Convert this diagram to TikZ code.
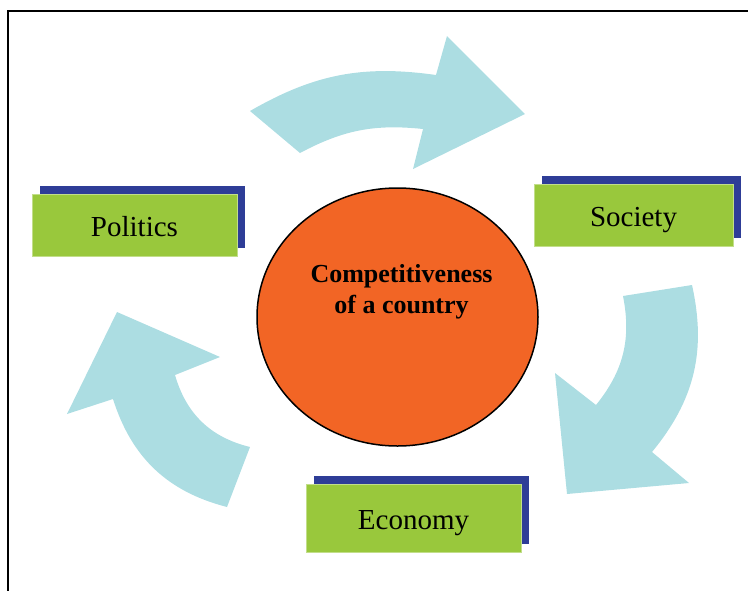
\documentclass[tikz,border=0pt]{standalone}
\usepackage{fontspec}
\setmainfont{Liberation Serif}
\usetikzlibrary{shapes.geometric,shadows}

\definecolor{arrowcyan}{RGB}{172,221,226}
\definecolor{boxgreen}{RGB}{153,200,60}
\definecolor{boxblue}{RGB}{46,61,151}
\definecolor{coreorange}{RGB}{242,101,37}

\begin{document}
\begin{tikzpicture}[x=1pt,y=1pt,
    cycle arrow/.style={fill=arrowcyan},
    factor/.style={fill=boxgreen, draw=boxgreen!60!white, line width=1pt,
        minimum height=62pt, text height=22pt, text depth=0pt,
        font=\fontsize{29}{35}\selectfont,
        general shadow={fill=boxblue, shadow xshift=8pt, shadow yshift=8pt}},
    core/.style={ellipse, fill=coreorange, draw=black, line width=1.5pt,
        minimum width=281pt, minimum height=258pt},
    core text/.style={align=center, font=\fontsize{26}{31}\selectfont\bfseries}]
    \path[use as bounding box] (0,0) rectangle (748,-590);
    \clip (0,0) rectangle (748,-590);
    \draw[line width=2pt] (8,-11) rectangle (760,-600);

    % the three curved arrows
    \fill[cycle arrow] (250,-111) to[bend left=19] (436,-75) -- (447,-36)
        -- (525,-114) -- (413,-169) -- (423,-129) to[bend right=17] (300,-153) -- cycle;
    \fill[cycle arrow] (692,-285) -- (623,-296) to[bend left=25] (596,-405)
        -- (555,-373) -- (567,-494) -- (689,-483) -- (652,-452) to[bend right=26] (692,-285) -- cycle;
    \fill[cycle arrow] (227,-507) -- (250,-447) to[bend left=30] (175,-375)
        -- (220,-357) -- (117,-312) -- (67,-414) -- (113,-399) to[bend right=29] (227,-507) -- cycle;

    \node[core] (core) at (397.5,-317) {};
    \node[core text] (coretext) at (401.5,-292) {Competitiveness\\of a country};

    \node[factor, minimum width=205pt] (politics) at (134.5,-225) {Politics};
    \node[factor, minimum width=199pt] (society) at (633.5,-215) {Society};
    \node[factor, minimum width=215pt, minimum height=68pt] (economy) at (413.5,-518) {Economy};
\end{tikzpicture}
\end{document}
